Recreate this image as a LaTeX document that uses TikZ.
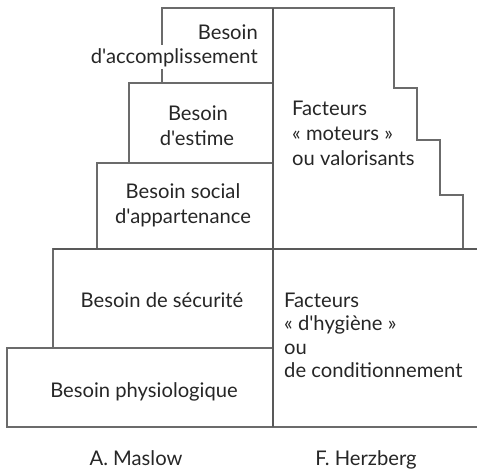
\documentclass[tikz,border=0pt]{standalone}
\usepackage{fontspec}
\setmainfont{Lato}[Ligatures=TeXOff]
\begin{document}
\begin{tikzpicture}[x=1pt,y=-1pt,
  rule/.style={draw=black!58, line width=1.3pt},
  heavy/.style={draw=black!65, line width=1.8pt},
  lbl/.style={font=\fontsize{20.2}{25}\selectfont, text=black!85, inner sep=0pt},
  lblc/.style={lbl, align=center},
  lbll/.style={lbl, align=left, anchor=base west}]
\useasboundingbox (0,0) rectangle (477,472);

% Maslow's pyramid, one box per level
\draw[rule] (162,8) rectangle (273,83);
\draw[rule] (129,83) rectangle (273,163);
\draw[rule] (97,163) rectangle (273,249);
\draw[rule] (53,249) rectangle (273,348);
\draw[rule] (7,348) rectangle (273,427);

% Herzberg: stepped block of motivating factors
\draw[rule] (273,8) -- (394,8) -- (394,88) -- (417,88) -- (417,140)
  -- (440,140) -- (440,195) -- (463,195) -- (463,249);
% Herzberg: open block of hygiene factors
\draw[heavy] (53,249) -- (477,249);
\draw[rule] (273,427) -- (477,427);
% dividing line between the two models
\draw[heavy] (273,8) -- (273,427);

% level labels
\node[lbl, anchor=base east] (acc1) at (258,39) {Besoin};
\node[lbl, anchor=base east, fill=white, inner ysep=3pt, inner xsep=1pt] (acc2) at (259,63) {d'accomplissement};
\node[lblc, anchor=base] (est1) at (198,120) {Besoin};
\node[lblc, anchor=base] (est2) at (197,145) {d'estime};
\node[lblc, anchor=base] (soc1) at (183,198) {Besoin social};
\node[lblc, anchor=base] (soc2) at (183,223) {d'appartenance};
\node[lblc, anchor=base] (sec) at (162,307) {Besoin de sécurité};
\node[lblc, anchor=base] (phy) at (144,397) {Besoin physiologique};

% factor labels
\node[lbll] (mot1) at (292,115) {Facteurs};
\node[lbll] (mot2) at (292,140) {« moteurs »};
\node[lbll] (mot3) at (292,165) {ou valorisants};
\node[lbll] (hyg1) at (284,307) {Facteurs};
\node[lbll] (hyg2) at (284,330) {« d'hygiène »};
\node[lbll] (hyg3) at (284,354) {ou};
\node[lbll] (hyg4) at (284,377) {de conditionnement};

% authors
\node[lblc, anchor=base] (maslow) at (136,465) {A. Maslow};
\node[lblc, anchor=base] (herz) at (366,465) {F. Herzberg};
\end{tikzpicture}
\end{document}
